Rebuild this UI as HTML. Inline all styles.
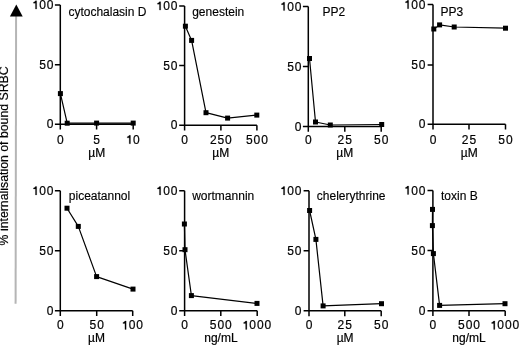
<!DOCTYPE html>
<html><head><meta charset="utf-8"><style>
html,body{margin:0;padding:0;background:#fff;}
svg{display:block;will-change:transform;}
text{font-family:"Liberation Sans",sans-serif;font-size:12px;fill:#000;stroke:#000;stroke-width:0.2px;}
.ax path{stroke:#000;stroke-width:1.5;fill:none;stroke-linecap:butt;}
.d{stroke:#000;stroke-width:1.2;fill:none;stroke-linejoin:round;}
rect{fill:#000;}
.t{stroke-width:0.15px;}
.one{fill:#000;stroke:#000;stroke-width:0.2px;}
</style></head><body>
<svg width="520" height="345" viewBox="0 0 520 345">
<line x1="16.1" y1="16" x2="15.6" y2="303.8" stroke="#b5b5b5" stroke-width="2"/>
<path d="M16.3 4.4L22.7 16.5H9.9Z" fill="#000"/>
<text transform="translate(7.9 245.4) rotate(-90)" style="font-size:12.3px">% internalisation of bound SRBC</text>
<g class="ax"><path d="M60.3 5.0V124.2M54.9 5.0H60.3M54.9 64.85H60.3M54.9 124.2H133.2" /><path d="M60.3 124.2V129.6M96.6 124.2V129.6M133.2 124.2V129.6" /></g>
<path class="one" d="M35.44 0.65H36.69V9.10H35.44V3.15H33.44V2.15Q34.84 1.95 35.44 0.65Z"/><text x="39.19" y="9.10">0</text><text x="46.79" y="9.10">0</text>
<text x="39.19" y="68.95">5</text><text x="46.79" y="68.95">0</text>
<text x="46.79" y="128.30">0</text>
<text x="56.96" y="143.80">0</text>
<text x="93.27" y="143.80">5</text>
<path class="one" d="M129.22 135.35H130.47V143.80H129.22V137.85H127.22V136.85Q128.62 136.65 129.22 135.35Z"/><text x="132.97" y="143.80">0</text>
<text x="96.75" y="157.2" text-anchor="middle">µM</text>
<text class="t" x="68.4" y="15.6">cytochalasin D</text>
<polyline class="d" points="60.4,93.6 67.2,123.2 96.6,123.1 133.2,123.1" />
<rect x="57.90" y="91.10" width="5.0" height="5.0" />
<rect x="64.70" y="120.70" width="5.0" height="5.0" />
<rect x="94.10" y="120.60" width="5.0" height="5.0" />
<rect x="130.70" y="120.60" width="5.0" height="5.0" />
<g class="ax"><path d="M184.6 6.0V125.2M179.2 6.0H184.6M179.2 65.60H184.6M179.2 125.2H256.9" /><path d="M184.6 125.2V130.6M220.9 125.2V130.6M256.9 125.2V130.6" /></g>
<path class="one" d="M159.44 1.65H160.69V10.10H159.44V4.15H157.44V3.15Q158.84 2.95 159.44 1.65Z"/><text x="163.19" y="10.10">0</text><text x="170.79" y="10.10">0</text>
<text x="163.19" y="69.70">5</text><text x="170.79" y="69.70">0</text>
<text x="170.79" y="129.30">0</text>
<text x="181.26" y="143.80">0</text>
<text x="209.90" y="143.80">2</text><text x="217.50" y="143.80">5</text><text x="225.09" y="143.80">0</text>
<text x="245.95" y="143.80">5</text><text x="253.55" y="143.80">0</text><text x="261.15" y="143.80">0</text>
<text x="220.75" y="157.2" text-anchor="middle">µM</text>
<text class="t" x="192.2" y="16.0">genestein</text>
<polyline class="d" points="185.4,26.2 191.6,40.4 206.0,112.7 227.6,118.1 256.8,115.1" />
<rect x="182.90" y="23.70" width="5.0" height="5.0" />
<rect x="189.10" y="37.90" width="5.0" height="5.0" />
<rect x="203.50" y="110.20" width="5.0" height="5.0" />
<rect x="225.10" y="115.60" width="5.0" height="5.0" />
<rect x="254.30" y="112.60" width="5.0" height="5.0" />
<g class="ax"><path d="M308.3 6.5V126.4M302.90000000000003 6.5H308.3M302.90000000000003 66.45H308.3M302.90000000000003 126.4H381.2" /><path d="M308.3 126.4V131.8M344.8 126.4V131.8M381.2 126.4V131.8" /></g>
<path class="one" d="M283.44 2.15H284.69V10.60H283.44V4.65H281.44V3.65Q282.84 3.45 283.44 2.15Z"/><text x="287.19" y="10.60">0</text><text x="294.79" y="10.60">0</text>
<text x="287.19" y="70.55">5</text><text x="294.79" y="70.55">0</text>
<text x="294.79" y="130.50">0</text>
<text x="304.96" y="143.80">0</text>
<text x="337.62" y="143.80">2</text><text x="345.22" y="143.80">5</text>
<text x="374.06" y="143.80">5</text><text x="381.66" y="143.80">0</text>
<text x="344.75" y="157.2" text-anchor="middle">µM</text>
<text class="t" x="322.6" y="16.0">PP2</text>
<polyline class="d" points="309.5,58.5 315.5,122.0 330.3,125.0 381.7,124.5" />
<rect x="307.00" y="56.00" width="5.0" height="5.0" />
<rect x="313.00" y="119.50" width="5.0" height="5.0" />
<rect x="327.80" y="122.50" width="5.0" height="5.0" />
<rect x="379.20" y="122.00" width="5.0" height="5.0" />
<g class="ax"><path d="M433.0 4.6V124.2M427.6 4.6H433.0M427.6 64.90H433.0M427.6 124.2H505.5" /><path d="M433.0 124.2V129.6M469.0 124.2V129.6M505.5 124.2V129.6" /></g>
<path class="one" d="M407.44 0.25H408.69V8.70H407.44V2.75H405.44V1.75Q406.84 1.55 407.44 0.25Z"/><text x="411.19" y="8.70">0</text><text x="418.79" y="8.70">0</text>
<text x="411.19" y="69.00">5</text><text x="418.79" y="69.00">0</text>
<text x="418.79" y="128.30">0</text>
<text x="429.66" y="143.80">0</text>
<text x="461.81" y="143.80">2</text><text x="469.42" y="143.80">5</text>
<text x="498.36" y="143.80">5</text><text x="505.96" y="143.80">0</text>
<text x="469.25" y="157.2" text-anchor="middle">µM</text>
<text class="t" x="440.6" y="15.9">PP3</text>
<polyline class="d" points="433.8,29.0 439.6,24.9 454.2,27.0 505.5,28.2" />
<rect x="431.30" y="26.50" width="5.0" height="5.0" />
<rect x="437.10" y="22.40" width="5.0" height="5.0" />
<rect x="451.70" y="24.50" width="5.0" height="5.0" />
<rect x="503.00" y="25.70" width="5.0" height="5.0" />
<g class="ax"><path d="M60.3 190.8V310.7M54.9 190.8H60.3M54.9 250.75H60.3M54.9 310.7H132.7" /><path d="M60.3 310.7V316.09999999999997M96.7 310.7V316.09999999999997M132.7 310.7V316.09999999999997" /></g>
<path class="one" d="M35.44 186.45H36.69V194.90H35.44V188.95H33.44V187.95Q34.84 187.75 35.44 186.45Z"/><text x="39.19" y="194.90">0</text><text x="46.79" y="194.90">0</text>
<text x="39.19" y="254.85">5</text><text x="46.79" y="254.85">0</text>
<text x="46.79" y="314.80">0</text>
<text x="56.96" y="329.40">0</text>
<text x="89.56" y="329.40">5</text><text x="97.16" y="329.40">0</text>
<path class="one" d="M124.92 320.95H126.17V329.40H124.92V323.45H122.92V322.45Q124.32 322.25 124.92 320.95Z"/><text x="128.67" y="329.40">0</text><text x="136.27" y="329.40">0</text>
<text x="96.50" y="341.7" text-anchor="middle">µM</text>
<text class="t" x="68.8" y="199.6">piceatannol</text>
<polyline class="d" points="67.0,208.2 78.3,226.4 96.6,276.6 133.0,289.1" />
<rect x="64.50" y="205.70" width="5.0" height="5.0" />
<rect x="75.80" y="223.90" width="5.0" height="5.0" />
<rect x="94.10" y="274.10" width="5.0" height="5.0" />
<rect x="130.50" y="286.60" width="5.0" height="5.0" />
<g class="ax"><path d="M184.6 190.8V310.7M179.2 190.8H184.6M179.2 250.75H184.6M179.2 310.7H257.2" /><path d="M184.6 310.7V316.09999999999997M220.8 310.7V316.09999999999997M257.2 310.7V316.09999999999997" /></g>
<path class="one" d="M159.44 186.45H160.69V194.90H159.44V188.95H157.44V187.95Q158.84 187.75 159.44 186.45Z"/><text x="163.19" y="194.90">0</text><text x="170.79" y="194.90">0</text>
<text x="163.19" y="254.85">5</text><text x="170.79" y="254.85">0</text>
<text x="170.79" y="314.80">0</text>
<text x="181.26" y="329.40">0</text>
<text x="209.86" y="329.40">5</text><text x="217.46" y="329.40">0</text><text x="225.06" y="329.40">0</text>
<path class="one" d="M245.62 320.95H246.87V329.40H245.62V323.45H243.62V322.45Q245.02 322.25 245.62 320.95Z"/><text x="249.37" y="329.40">0</text><text x="256.97" y="329.40">0</text><text x="264.57" y="329.40">0</text>
<text x="220.90" y="341.7" text-anchor="middle">ng/mL</text>
<text class="t" x="192.2" y="199.6">wortmannin</text>
<polyline class="d" points="184.4,224.0 185.0,249.7 191.4,295.6 257.0,303.4" />
<rect x="181.90" y="221.50" width="5.0" height="5.0" />
<rect x="182.50" y="247.20" width="5.0" height="5.0" />
<rect x="188.90" y="293.10" width="5.0" height="5.0" />
<rect x="254.50" y="300.90" width="5.0" height="5.0" />
<g class="ax"><path d="M309.0 190.8V310.8M303.6 190.8H309.0M303.6 250.80H309.0M303.6 310.8H381.2" /><path d="M309.0 310.8V316.2M344.8 310.8V316.2M381.2 310.8V316.2" /></g>
<path class="one" d="M283.44 186.45H284.69V194.90H283.44V188.95H281.44V187.95Q282.84 187.75 283.44 186.45Z"/><text x="287.19" y="194.90">0</text><text x="294.79" y="194.90">0</text>
<text x="287.19" y="254.90">5</text><text x="294.79" y="254.90">0</text>
<text x="294.79" y="314.90">0</text>
<text x="305.66" y="329.40">0</text>
<text x="337.62" y="329.40">2</text><text x="345.22" y="329.40">5</text>
<text x="374.06" y="329.40">5</text><text x="381.66" y="329.40">0</text>
<text x="345.10" y="341.7" text-anchor="middle">µM</text>
<text class="t" x="316.8" y="199.6">chelerythrine</text>
<polyline class="d" points="309.6,210.5 315.9,239.4 323.1,305.9 381.5,303.7" />
<rect x="307.10" y="208.00" width="5.0" height="5.0" />
<rect x="313.40" y="236.90" width="5.0" height="5.0" />
<rect x="320.60" y="303.40" width="5.0" height="5.0" />
<rect x="379.00" y="301.20" width="5.0" height="5.0" />
<g class="ax"><path d="M432.9 190.4V310.7M427.5 190.4H432.9M427.5 250.55H432.9M427.5 310.7H505.2" /><path d="M432.9 310.7V316.09999999999997M469.0 310.7V316.09999999999997M505.2 310.7V316.09999999999997" /></g>
<path class="one" d="M407.44 186.05H408.69V194.50H407.44V188.55H405.44V187.55Q406.84 187.35 407.44 186.05Z"/><text x="411.19" y="194.50">0</text><text x="418.79" y="194.50">0</text>
<text x="411.19" y="254.65">5</text><text x="418.79" y="254.65">0</text>
<text x="418.79" y="314.80">0</text>
<text x="429.56" y="329.40">0</text>
<text x="458.06" y="329.40">5</text><text x="465.66" y="329.40">0</text><text x="473.25" y="329.40">0</text>
<path class="one" d="M493.62 320.95H494.87V329.40H493.62V323.45H491.62V322.45Q493.02 322.25 493.62 320.95Z"/><text x="497.37" y="329.40">0</text><text x="504.97" y="329.40">0</text><text x="512.57" y="329.40">0</text>
<text x="469.05" y="341.7" text-anchor="middle">ng/mL</text>
<text class="t" x="441.0" y="199.8">toxin B</text>
<polyline class="d" points="432.5,209.4 432.4,225.6 433.4,253.6 439.6,305.4 505.0,303.7" />
<rect x="430.00" y="206.90" width="5.0" height="5.0" />
<rect x="429.90" y="223.10" width="5.0" height="5.0" />
<rect x="430.90" y="251.10" width="5.0" height="5.0" />
<rect x="437.10" y="302.90" width="5.0" height="5.0" />
<rect x="502.50" y="301.20" width="5.0" height="5.0" />
</svg>
</body></html>
